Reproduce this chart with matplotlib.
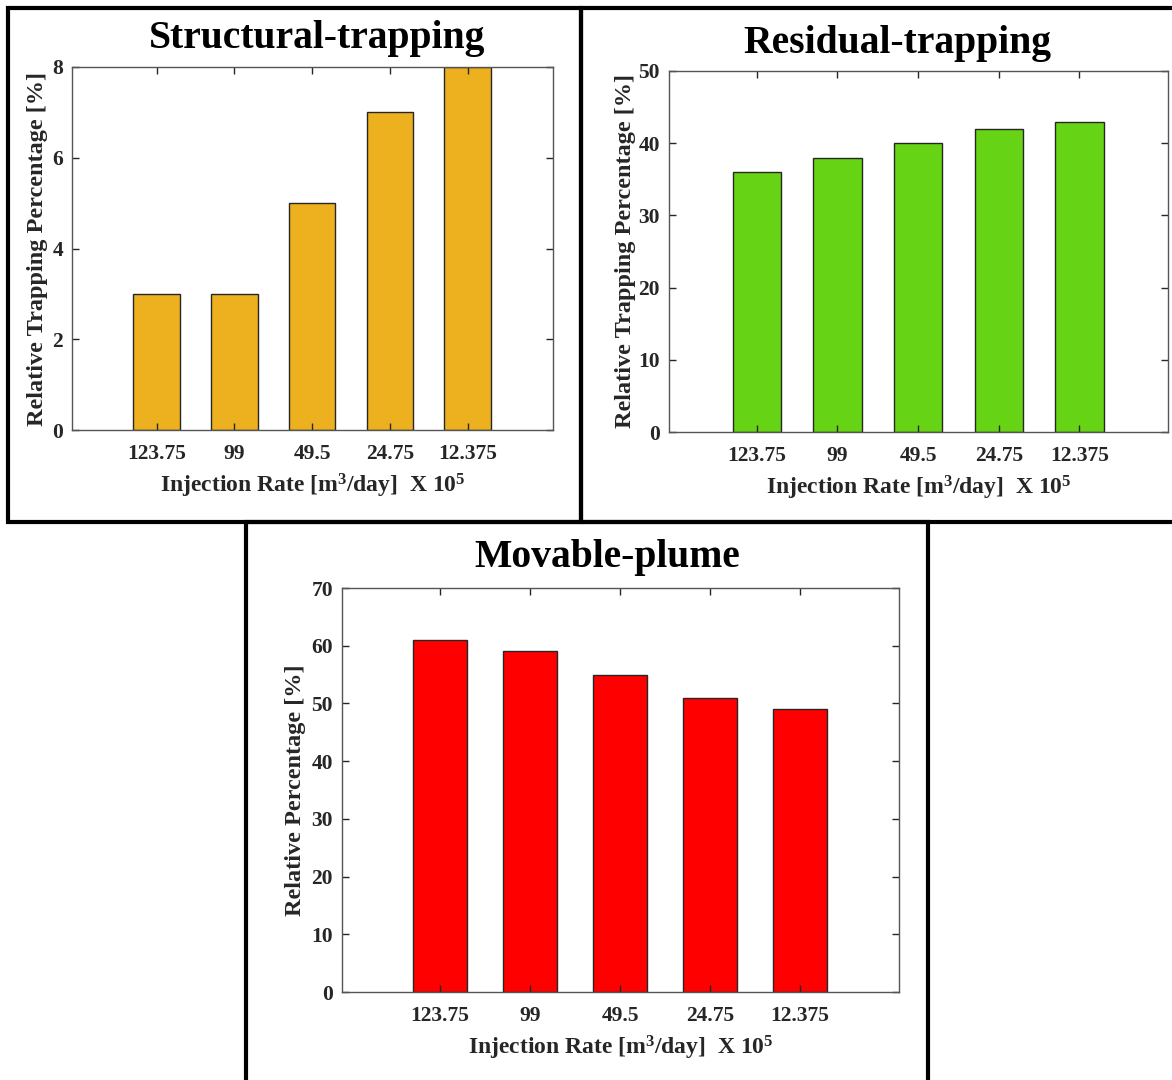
import numpy as np
import matplotlib.pyplot as plt
from matplotlib.patches import Rectangle

plt.rcParams['font.family'] = 'Liberation Serif'
plt.rcParams['font.weight'] = 'bold'
plt.rcParams['axes.labelweight'] = 'bold'
plt.rcParams['axes.titleweight'] = 'bold'
plt.rcParams['mathtext.fontset'] = 'custom'
plt.rcParams['mathtext.rm'] = 'Liberation Serif:bold'
plt.rcParams['mathtext.it'] = 'Liberation Serif:bold'
plt.rcParams['mathtext.bf'] = 'Liberation Serif:bold'

rates = ['123.75', '99', '49.5', '24.75', '12.375']
structural = [3, 3, 5, 7, 8]
residual = [36, 38, 40, 42, 43]
movable = [61, 59, 55, 51, 49]

xlab = r'Injection Rate [m$^{3}$/day]  X 10$^{5}$'
grey = '#262626'

fig = plt.figure(figsize=(11.72, 10.8), dpi=100)

# panel boxes (pixels -> figure fraction)
W, H = 1172., 1080.
def box(x0, y0, x1, y1):
    fig.patches.append(Rectangle((x0 / W, 1 - y1 / H), (x1 - x0) / W, (y1 - y0) / H,
                                 transform=fig.transFigure, fill=False,
                                 edgecolor='black', linewidth=3, zorder=0))

box(8, 8, 581, 522)
box(581, 8, 1175, 522)
box(246, 522, 928, 1085)


def panel(rect, vals, color, ymax, step, title, ylabel, title_pad, title_x, ylpad):
    ax = fig.add_axes(rect)
    x = np.arange(1, len(vals) + 1)
    ax.bar(x, vals, width=0.6, color=color, edgecolor=grey, linewidth=1.0)
    ax.set_xlim(-0.09, 6.1)
    ax.set_ylim(0, ymax)
    ax.set_xticks(x)
    ax.set_xticklabels(rates)
    ax.set_yticks(np.arange(0, ymax + 0.1, step))
    ax.tick_params(direction='in', top=True, right=True, length=5, width=1,
                   colors=grey, labelsize=15.5)
    ax.tick_params(axis='x', pad=10)
    ax.tick_params(axis='y', pad=6.5)
    for s in ax.spines.values():
        s.set_color('#555555')
        s.set_linewidth(1.0)
    ax.set_xlabel(xlab, fontsize=17, color=grey, labelpad=6)
    ax.set_ylabel(ylabel, fontsize=17.5, color=grey, labelpad=ylpad)
    ax.set_title(title, fontsize=28.5, color='black', pad=title_pad, x=title_x)
    return ax


panel([72 / W, 1 - 430 / H, (553 - 72) / W, (430 - 67) / H], structural, '#EDB120',
      8, 2, 'Structural-trapping', 'Relative Trapping Percentage [%]', 14, 0.509, 3)
panel([669 / W, 1 - 432 / H, (1168 - 669) / W, (432 - 71) / H], residual, '#66D314',
      50, 10, 'Residual-trapping', 'Relative Trapping Percentage [%]', 13, 0.457, 2)
panel([342 / W, 1 - 992 / H, (899 - 342) / W, (992 - 588) / H], movable, '#FF0000',
      70, 10, 'Movable-plume', 'Relative Percentage [%]', 15, 0.476, 4)

fig.savefig('out.png', dpi=100)
